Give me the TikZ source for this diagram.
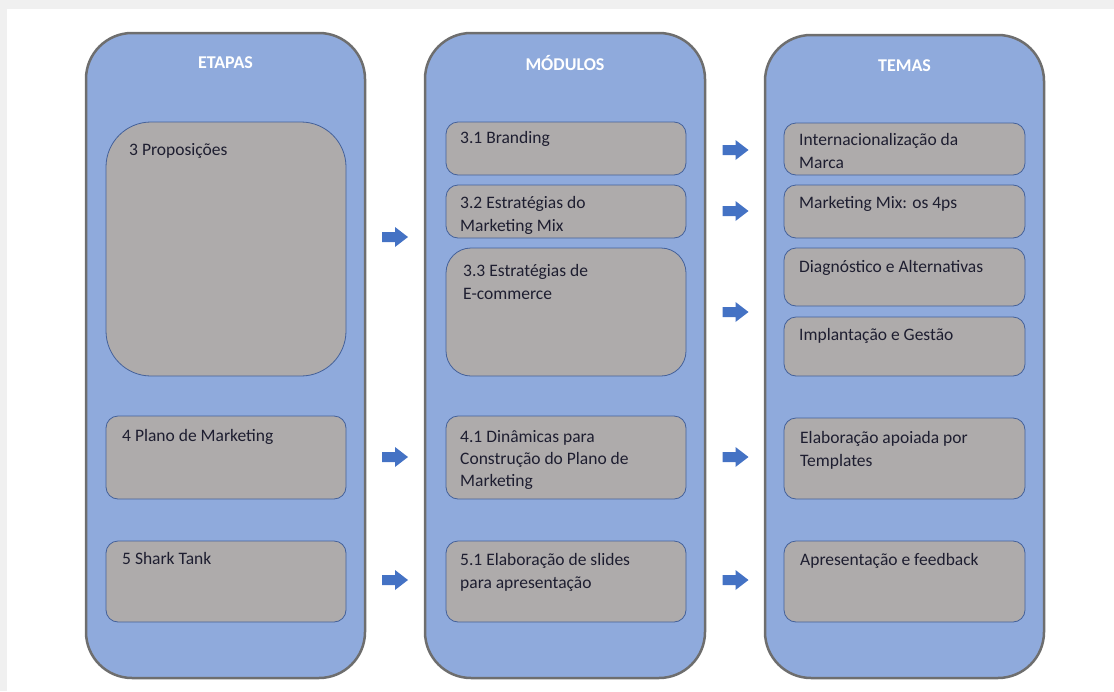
\documentclass[tikz,border=0pt]{standalone}
\usepackage{fontspec}
\setmainfont{Carlito}
\definecolor{colfill}{HTML}{8FAADC}
\definecolor{coldraw}{HTML}{6E6E6E}
\definecolor{boxfill}{HTML}{AEABAB}
\definecolor{boxdraw}{HTML}{44619A}
\definecolor{arrowblue}{HTML}{4472C4}
\definecolor{txtc}{HTML}{1E1E30}
\definecolor{stripgray}{HTML}{F0F0F0}
\tikzset{
  col/.style={draw=coldraw, line width=2.5pt, fill=colfill, rounded corners=46pt, inner sep=0pt},
  inbox/.style={draw=boxdraw, line width=0.8pt, fill=boxfill, rounded corners=12pt, inner sep=0pt},
  head/.style={text=white, font=\fontsize{18}{21}\selectfont\bfseries, inner sep=0pt},
  txt/.style={text=txtc, font=\fontsize{17.5}{23}\selectfont, align=left, inner sep=0pt, anchor=base west},
  barrow/.pic={\fill[arrowblue] (-13,-5) -- (0,-5) -- (0,-10) -- (13,0) -- (0,10) -- (0,5) -- (-13,5) -- cycle;}
}
\begin{document}
\begin{tikzpicture}[x=1pt,y=1pt]
\useasboundingbox (0,0) rectangle (1114,-691);
\fill[stripgray] (0,0) rectangle (1114,-9);
\fill[stripgray] (0,0) rectangle (7,-691);

% columns
\node[col, minimum width=279pt, minimum height=645pt] (etapas) at (225.5,-355.5) {};
\node[col, minimum width=280pt, minimum height=645pt] (modulos) at (565,-355.5) {};
\node[col, minimum width=279pt, minimum height=643pt] (temas) at (904.5,-356.5) {};

\node[head] (hE) at (225.5,-63) {ETAPAS};
\node[head] (hM) at (565,-63) {MÓDULOS};
\node[head] (hT) at (904.5,-66) {TEMAS};

% ETAPAS boxes
\node[inbox, rounded corners=45pt, minimum width=240pt, minimum height=254pt] (p3) at (226,-249) {};
\node[inbox, minimum width=240pt, minimum height=83pt] (p4) at (226,-457.5) {};
\node[inbox, minimum width=240pt, minimum height=81pt] (p5) at (226,-581.5) {};
\node[txt] (tp3) at (129,-155) {3 Proposições};
\node[txt] (tp4) at (122,-441) {4 Plano de Marketing};
\node[txt] (tp5) at (122,-564) {5 Shark Tank};

% MODULOS boxes
\node[inbox, minimum width=240pt, minimum height=53pt] (m31) at (566,-148.5) {};
\node[inbox, minimum width=240pt, minimum height=53pt] (m32) at (566,-211.5) {};
\node[inbox, rounded corners=25pt, minimum width=240pt, minimum height=128pt] (m33) at (566,-312) {};
\node[inbox, minimum width=240pt, minimum height=83pt] (m41) at (566,-457.5) {};
\node[inbox, minimum width=240pt, minimum height=81pt] (m51) at (566,-581.5) {};
\node[txt] (tm31) at (460,-143) {3.1 Branding};
\node[txt] (tm32) at (460,-231) {3.2 Estratégias do\\Marketing Mix};
\node[txt] (tm33) at (463,-299) {3.3 Estratégias de\\E-commerce};
\node[txt, font=\fontsize{17.5}{22}\selectfont] (tm41) at (460,-486) {4.1 Dinâmicas para\\Construção do Plano de\\Marketing};
\node[txt] (tm51) at (460,-588) {5.1 Elaboração de slides\\para apresentação};

% TEMAS boxes
\node[inbox, minimum width=241pt, minimum height=52pt] (t1) at (904.5,-149) {};
\node[inbox, minimum width=241pt, minimum height=53pt] (t2) at (904.5,-211.5) {};
\node[inbox, minimum width=241pt, minimum height=58pt] (t3) at (904.5,-277) {};
\node[inbox, minimum width=241pt, minimum height=59pt] (t4) at (904.5,-346.5) {};
\node[inbox, minimum width=241pt, minimum height=81pt] (t5) at (904.5,-458.5) {};
\node[inbox, minimum width=241pt, minimum height=81pt] (t6) at (904.5,-581.5) {};
\node[txt] (tt1) at (799,-168) {Internacionalização da\\Marca};
\node[txt] (tt2) at (799,-208) {Marketing Mix: os 4ps};
\node[txt] (tt3) at (799,-272) {Diagnóstico e Alternativas};
\node[txt] (tt4) at (799,-340) {Implantação e Gestão};
\node[txt] (tt5) at (800,-466) {Elaboração apoiada por\\Templates};
\node[txt] (tt6) at (800,-565) {Apresentação e feedback};

% arrows
\pic (aL1) at (395,-237) {barrow};
\pic (aL2) at (395,-457) {barrow};
\pic (aL3) at (395,-580) {barrow};
\pic (aR1) at (735.5,-150) {barrow};
\pic (aR2) at (735.5,-211) {barrow};
\pic (aR3) at (735.5,-312) {barrow};
\pic (aR4) at (735.5,-457) {barrow};
\pic (aR5) at (735.5,-580) {barrow};
\end{tikzpicture}
\end{document}
